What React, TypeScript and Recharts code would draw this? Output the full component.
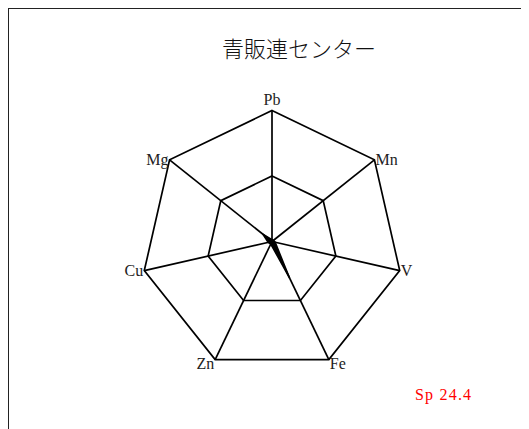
import React from 'react';
import { RadarChart, Radar, PolarGrid, PolarAngleAxis, PolarRadiusAxis } from 'recharts';

if (typeof document !== 'undefined') {
  document.documentElement.style.overflow = 'hidden';
  document.body.style.overflow = 'hidden';
}

const elements = ['Pb', 'Mn', 'V', 'Fe', 'Zn', 'Cu', 'Mg'];
const values = [0.015, 0.015, 0.025, 0.31, 0.022, 0.03, 0.09];
const title = '青販連センター';
const note = 'Sp 24.4';

const chartData = elements.map((el, i) => ({ element: el, value: values[i] }));

const CX = 263;
const CY = 232.5;
const R = 131;

const renderTick = (props: any) => {
  const { payload } = props;
  const ang = (-payload.coordinate * Math.PI) / 180;
  const cos = Math.cos(ang);
  const sin = Math.sin(ang);
  const vx = CX + R * cos;
  const vy = CY + R * sin;
  const style = { fontFamily: "'Liberation Serif', serif", fontSize: 16, fill: '#222' };
  if (Math.abs(cos) < 1e-3) {
    return (
      <text x={vx} y={vy - 6} textAnchor="middle" style={style}>
        {payload.value}
      </text>
    );
  }
  const anchor = cos > 0 ? 'start' : 'end';
  const dx = cos > 0 ? 1 : -1;
  const dy = sin > 0.5 ? 4 : 0;
  return (
    <text x={vx + dx} y={vy + dy} dy="0.35em" textAnchor={anchor} style={style}>
      {payload.value}
    </text>
  );
};

export default function App() {
  return (
    <div style={{ width: 521, height: 421, overflow: 'hidden', position: 'relative' }}>
      <div
        style={{
          position: 'relative',
          width: 600,
          height: 470,
          border: '1px solid #222',
          background: '#fff',
        }}
      >
        <div
          style={{
            position: 'absolute',
            left: 190,
            width: 200,
            top: 25,
            textAlign: 'center',
            fontFamily: "'Noto Sans CJK JP', sans-serif",
            fontSize: 22,
            fontWeight: 300,
            color: '#111',
            lineHeight: '26px',
          }}
        >
          {title}
        </div>
        <RadarChart
          width={520}
          height={420}
          data={chartData}
          cx={CX}
          cy={CY}
          outerRadius={R}
          margin={{ top: 0, right: 0, bottom: 0, left: 0 }}
        >
          <PolarGrid gridType="polygon" polarRadius={[R / 2, R]} stroke="#000" strokeWidth={1.7} strokeOpacity={1} />
          <PolarAngleAxis dataKey="element" tick={renderTick} tickLine={false} axisLine={false} />
          <PolarRadiusAxis domain={[0, 1]} tick={false} axisLine={false} tickCount={3} />
          <Radar
            dataKey="value"
            stroke="#000"
            strokeWidth={1.5}
            fill="#000"
            fillOpacity={1}
            dot={false}
            isAnimationActive={false}
          />
        </RadarChart>
        <div
          style={{
            position: 'absolute',
            left: 406,
            top: 377,
            fontFamily: "'Liberation Serif', serif",
            fontSize: 16,
            letterSpacing: 1.2,
            color: '#f00',
            lineHeight: '18px',
          }}
        >
          {note}
        </div>
      </div>
    </div>
  );
}
